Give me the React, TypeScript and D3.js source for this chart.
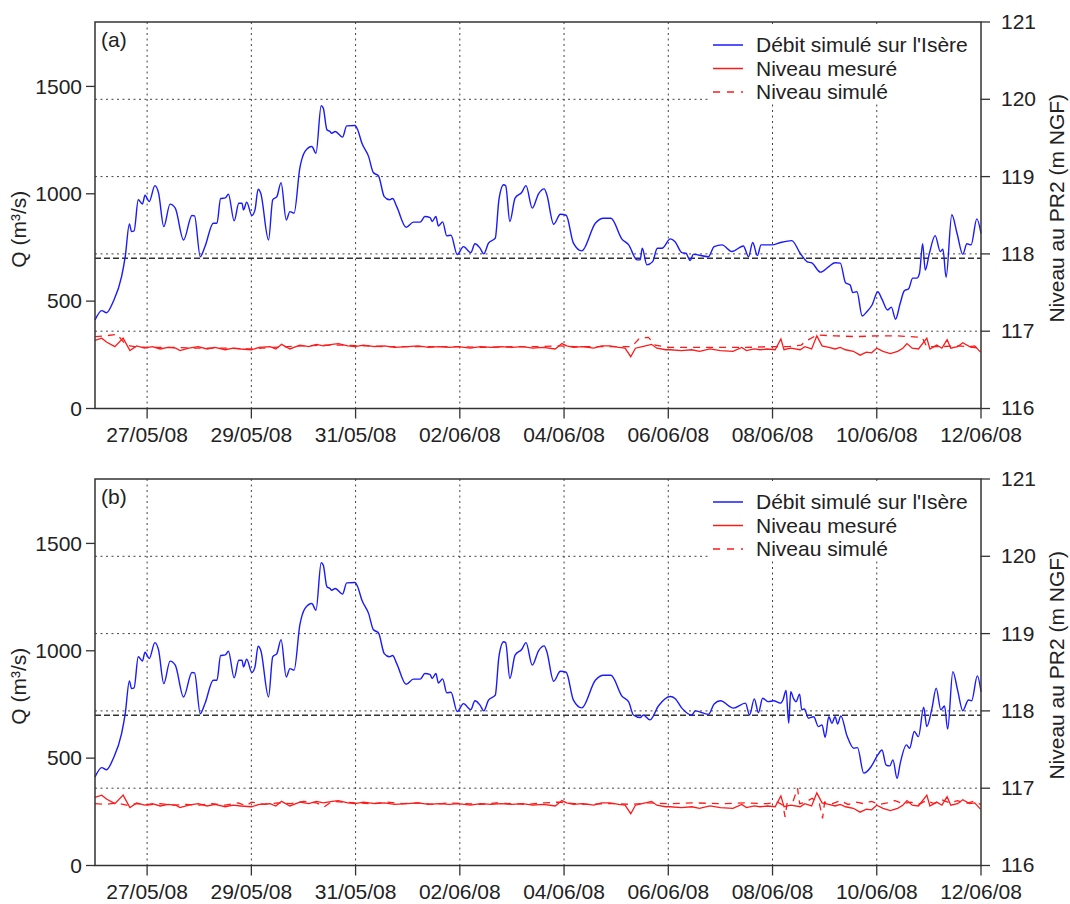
import React from "react";
import * as d3 from "d3";

// [days since 26/05/08 00:00, value]
type Pt = [number, number];

const tickLabels = [
  "27/05/08", "29/05/08", "31/05/08", "02/06/08", "04/06/08",
  "06/06/08", "08/06/08", "10/06/08", "12/06/08",
];
const qTicks = [0, 500, 1000, 1500];
const levelTicks = [116, 117, 118, 119, 120, 121];
const qThreshold = 700;

// Débit simulé sur l'Isère (m3/s), panel (a)
const debitA: Pt[] = [
  [0.0, 412], [0.13, 456], [0.22, 446], [0.35, 498], [0.51, 614], [0.58, 707],
  [0.66, 860], [0.7, 824], [0.75, 827], [0.83, 972], [0.91, 952], [0.96, 993],
  [1.04, 964], [1.15, 1038], [1.22, 1003], [1.32, 847], [1.44, 952], [1.54, 933],
  [1.7, 785], [1.86, 899], [1.91, 897], [2.02, 707], [2.11, 754], [2.27, 863],
  [2.34, 863], [2.41, 978], [2.5, 981], [2.56, 998], [2.67, 874], [2.76, 956],
  [2.82, 956], [2.85, 925], [2.91, 961], [3.01, 899], [3.07, 925], [3.13, 1021],
  [3.18, 1003], [3.33, 785], [3.41, 972], [3.49, 987], [3.57, 1052], [3.67, 878],
  [3.74, 917], [3.82, 910], [3.93, 1119], [4.03, 1197], [4.16, 1220], [4.24, 1189],
  [4.34, 1410], [4.38, 1399], [4.45, 1298], [4.51, 1290], [4.54, 1282], [4.61, 1290],
  [4.75, 1264], [4.83, 1316], [4.99, 1318], [5.04, 1298], [5.12, 1236], [5.25, 1173],
  [5.34, 1099], [5.44, 1083], [5.55, 987], [5.65, 972], [5.71, 978], [5.79, 940],
  [5.97, 844], [6.11, 868], [6.24, 868], [6.33, 894], [6.43, 889], [6.47, 871],
  [6.54, 894], [6.59, 850], [6.67, 869], [6.75, 804], [6.83, 807], [6.95, 717],
  [7.07, 754], [7.21, 726], [7.29, 767], [7.39, 746], [7.46, 720], [7.55, 770],
  [7.68, 793], [7.75, 972], [7.84, 1042], [7.88, 1037], [7.96, 871], [8.06, 980],
  [8.19, 1007], [8.27, 1038], [8.39, 933], [8.51, 1000], [8.62, 1023], [8.67, 995],
  [8.8, 858], [8.93, 905], [9.04, 900], [9.18, 770], [9.34, 734], [9.6, 863],
  [9.76, 886], [9.9, 886], [10.11, 789], [10.24, 762], [10.4, 692], [10.46, 692],
  [10.5, 746], [10.59, 669], [10.7, 684], [10.79, 746], [10.88, 746], [11.04, 790],
  [11.13, 777], [11.26, 726], [11.34, 723], [11.42, 689], [11.48, 718], [11.77, 707],
  [11.88, 754], [12.03, 762], [12.22, 731], [12.44, 757], [12.54, 707], [12.62, 773],
  [12.71, 712], [12.78, 762], [12.99, 762], [13.15, 773], [13.37, 782], [13.53, 723],
  [13.66, 684], [13.76, 677], [13.92, 635], [14.08, 661], [14.2, 679], [14.3, 677],
  [14.4, 586], [14.49, 575], [14.54, 540], [14.62, 544], [14.72, 431], [14.81, 451],
  [14.91, 482], [15.02, 544], [15.1, 509], [15.21, 459], [15.28, 472], [15.36, 416],
  [15.45, 490], [15.53, 549], [15.61, 557], [15.69, 607], [15.77, 607], [15.82, 630],
  [15.88, 767], [15.93, 645], [16.01, 723], [16.12, 805], [16.22, 731], [16.27, 742],
  [16.33, 611], [16.44, 902], [16.54, 816], [16.65, 718], [16.73, 767], [16.81, 762],
  [16.92, 883], [17.0, 816],
];

// panel (b) follows (a) up to 10.3 days, then differs
const debitBTail: Pt[] = [
  [10.33, 701], [10.46, 689], [10.52, 701], [10.65, 678], [10.81, 743], [11.04, 787],
  [11.13, 778], [11.26, 733], [11.45, 701], [11.52, 720], [11.77, 704], [11.88, 752],
  [12.0, 767], [12.25, 733], [12.48, 756], [12.56, 701], [12.65, 776], [12.73, 712],
  [12.81, 779], [12.92, 763], [13.02, 767], [13.15, 756], [13.2, 771], [13.26, 815],
  [13.31, 663], [13.35, 810], [13.4, 779], [13.45, 763], [13.52, 798], [13.56, 725],
  [13.61, 729], [13.69, 686], [13.79, 693], [13.88, 647], [13.95, 655], [14.01, 597],
  [14.08, 693], [14.14, 663], [14.2, 693], [14.25, 659], [14.31, 697], [14.43, 603],
  [14.56, 546], [14.63, 549], [14.75, 430], [14.81, 437], [14.89, 460], [15.02, 515],
  [15.1, 538], [15.18, 468], [15.25, 464], [15.31, 492], [15.39, 406], [15.45, 476],
  [15.57, 562], [15.63, 546], [15.72, 624], [15.8, 600], [15.9, 737], [15.96, 647],
  [16.06, 733], [16.14, 826], [16.23, 725], [16.3, 743], [16.36, 635], [16.46, 903],
  [16.55, 818], [16.65, 721], [16.76, 771], [16.82, 767], [16.93, 883], [17.0, 810],
];

// Niveau mesuré au PR2 (m NGF)
const niveauMesure: Pt[] = [
  [0.0, 116.88], [0.13, 116.91], [0.22, 116.86], [0.38, 116.8], [0.54, 116.91],
  [0.67, 116.75], [0.8, 116.81], [0.95, 116.78], [1.1, 116.8], [1.25, 116.77],
  [1.4, 116.79], [1.55, 116.78], [1.63, 116.75], [1.8, 116.78], [1.98, 116.8],
  [2.15, 116.77], [2.3, 116.79], [2.5, 116.76], [2.65, 116.78], [2.8, 116.77],
  [3.0, 116.76], [3.15, 116.79], [3.36, 116.8], [3.47, 116.77], [3.58, 116.83],
  [3.74, 116.77], [3.93, 116.82], [4.1, 116.8], [4.25, 116.83], [4.38, 116.81],
  [4.55, 116.83], [4.67, 116.84], [4.85, 116.81], [4.99, 116.8], [5.15, 116.82],
  [5.37, 116.8], [5.55, 116.81], [5.75, 116.79], [6.0, 116.8], [6.2, 116.81],
  [6.4, 116.79], [6.6, 116.8], [6.8, 116.79], [6.97, 116.8], [7.2, 116.78],
  [7.4, 116.8], [7.6, 116.79], [7.8, 116.8], [8.0, 116.79], [8.2, 116.8],
  [8.4, 116.78], [8.6, 116.79], [8.83, 116.77], [8.96, 116.84], [9.05, 116.81],
  [9.18, 116.79], [9.35, 116.8], [9.57, 116.78], [9.72, 116.81], [9.88, 116.81],
  [10.05, 116.79], [10.17, 116.78], [10.28, 116.67], [10.37, 116.78], [10.5, 116.8],
  [10.68, 116.83], [10.78, 116.78], [10.95, 116.76], [11.04, 116.76], [11.25, 116.75],
  [11.45, 116.76], [11.6, 116.74], [11.8, 116.77], [12.0, 116.75], [12.24, 116.74],
  [12.41, 116.79], [12.5, 116.75], [12.65, 116.77], [12.76, 116.76], [12.9, 116.77],
  [13.05, 116.76], [13.16, 116.9], [13.22, 116.76], [13.35, 116.78], [13.53, 116.76],
  [13.62, 116.8], [13.75, 116.77], [13.85, 116.94], [13.95, 116.81], [14.08, 116.79],
  [14.2, 116.77], [14.3, 116.79], [14.4, 116.76], [14.55, 116.74], [14.68, 116.69],
  [14.8, 116.73], [14.9, 116.72], [15.0, 116.78], [15.12, 116.74], [15.26, 116.71],
  [15.4, 116.74], [15.5, 116.78], [15.58, 116.84], [15.68, 116.78], [15.8, 116.77],
  [15.96, 116.91], [16.02, 116.77], [16.15, 116.82], [16.25, 116.78], [16.35, 116.89],
  [16.42, 116.78], [16.55, 116.8], [16.65, 116.85], [16.78, 116.8], [16.88, 116.81],
  [16.99, 116.73],
];

// Niveau simulé, panel (a)
const niveauSimA: Pt[] = [
  [0.0, 116.93], [0.2, 116.94], [0.42, 116.96], [0.6, 116.82], [0.75, 116.8],
  [1.0, 116.79], [1.5, 116.79], [2.0, 116.78], [2.5, 116.78], [3.0, 116.77],
  [3.4, 116.79], [3.7, 116.8], [4.0, 116.81], [4.4, 116.82], [4.8, 116.82],
  [5.2, 116.81], [5.6, 116.8], [6.0, 116.8], [6.5, 116.8], [7.0, 116.8],
  [7.5, 116.79], [8.0, 116.8], [8.5, 116.8], [8.9, 116.81], [9.2, 116.8],
  [9.6, 116.8], [10.0, 116.8], [10.3, 116.8], [10.45, 116.91], [10.62, 116.92],
  [10.75, 116.82], [11.0, 116.79], [11.5, 116.79], [12.0, 116.79], [12.5, 116.79],
  [12.9, 116.8], [13.3, 116.8], [13.55, 116.82], [13.66, 116.88], [13.85, 116.95],
  [14.2, 116.94], [14.6, 116.93], [15.0, 116.94], [15.4, 116.94], [15.87, 116.92],
  [15.96, 116.8], [16.2, 116.8], [16.6, 116.81], [17.0, 116.78],
];

// Niveau simulé, panel (b)
const niveauSimB: Pt[] = [
  [0.0, 116.8], [0.2, 116.79], [0.4, 116.81], [0.6, 116.78], [0.8, 116.8],
  [1.0, 116.78], [1.25, 116.8], [1.5, 116.78], [1.75, 116.79], [2.0, 116.78],
  [2.25, 116.8], [2.5, 116.78], [2.75, 116.81], [2.9, 116.77], [3.0, 116.82],
  [3.25, 116.79], [3.5, 116.81], [3.75, 116.8], [4.0, 116.83], [4.25, 116.81],
  [4.4, 116.76], [4.55, 116.83], [4.75, 116.82], [5.0, 116.81], [5.3, 116.8],
  [5.6, 116.82], [5.9, 116.8], [6.2, 116.81], [6.5, 116.79], [6.8, 116.81],
  [7.1, 116.8], [7.4, 116.79], [7.7, 116.81], [8.0, 116.8], [8.3, 116.79],
  [8.6, 116.81], [8.9, 116.82], [9.2, 116.8], [9.5, 116.79], [9.75, 116.8],
  [10.0, 116.8], [10.3, 116.79], [10.6, 116.81], [11.0, 116.8], [11.5, 116.81],
  [12.0, 116.8], [12.5, 116.81], [12.9, 116.8], [13.1, 116.82], [13.2, 116.78],
  [13.24, 116.63], [13.28, 116.81], [13.4, 116.84], [13.48, 117.0], [13.52, 116.8],
  [13.64, 116.82], [13.76, 116.87], [13.9, 116.8], [13.96, 116.61], [14.0, 116.82],
  [14.15, 116.8], [14.3, 116.84], [14.45, 116.79], [14.6, 116.82], [14.75, 116.8],
  [14.9, 116.83], [15.05, 116.79], [15.2, 116.81], [15.35, 116.84], [15.5, 116.8],
  [15.65, 116.82], [15.8, 116.79], [15.95, 116.84], [16.1, 116.8], [16.25, 116.85],
  [16.4, 116.81], [16.55, 116.84], [16.7, 116.8], [16.85, 116.83], [17.0, 116.79],
];

const debitB: Pt[] = [...debitA.filter((d) => d[0] < 10.3), ...debitBTail];

const legendLabels = ["Débit simulé sur l'Isère", "Niveau mesuré", "Niveau simulé"];

const W = 1070;
const H = 904;
const left = 95;
const right = 981;
const plotH = 386.5;
const font = "'Liberation Sans', Arial, sans-serif";
const fs = 21;
const ink = "#222";

const t0 = new Date(2008, 4, 26);
const toDate = (days: number) => new Date(t0.getTime() + days * 864e5);
const parseTick = d3.timeParse("%d/%m/%y");

const x = d3.scaleTime().domain([t0, new Date(2008, 5, 12)]).range([left, right]);

interface PanelProps {
  top: number;
  tag: string;
  debit: Pt[];
  simul: Pt[];
}

const Panel: React.FC<PanelProps> = ({ top, tag, debit, simul }) => {
  const bottom = top + plotH;
  const yQ = d3.scaleLinear().domain([0, 1800]).range([bottom, top]);
  const yL = d3.scaleLinear().domain([116, 121]).range([bottom, top]);

  const lineQ = d3.line<Pt>()
    .x((d) => x(toDate(d[0])))
    .y((d) => yQ(d[1]))
    .curve(d3.curveMonotoneX);
  const lineL = d3.line<Pt>().x((d) => x(toDate(d[0]))).y((d) => yL(d[1]));

  const ticks = tickLabels.map((s) => ({ s, px: x(parseTick(s) as Date) }));
  const mid = (top + bottom) / 2;

  return (
    <g fontFamily={font} fontSize={fs} fill={ink}>
      {/* grid */}
      {ticks.filter((t) => t.px < right - 1).map((t) => (
        <line key={t.s} x1={t.px} x2={t.px} y1={top} y2={bottom}
          stroke="#444" strokeWidth={1} strokeDasharray="2,3.5" />
      ))}
      {levelTicks.filter((v) => v > 116 && v < 121).map((v) => (
        <line key={v} x1={left} x2={right} y1={yL(v)} y2={yL(v)}
          stroke="#444" strokeWidth={1} strokeDasharray="2,3.5" />
      ))}
      <line x1={left} x2={right} y1={yQ(qThreshold)} y2={yQ(qThreshold)}
        stroke="#333" strokeWidth={1.4} strokeDasharray="6,3" />

      {/* series */}
      <path d={lineL(niveauMesure) ?? ""} fill="none" stroke="#ff1a1a" strokeWidth={1.3} />
      <path d={lineL(simul) ?? ""} fill="none" stroke="#ff1a1a" strokeWidth={1.3} strokeDasharray="7,6" />
      <path d={lineQ(debit) ?? ""} fill="none" stroke="#1a1aff" strokeWidth={1.4} strokeLinejoin="round" />

      {/* legend */}
      <rect x={708} y={top + 5} width={271} height={77} fill="white" />
      {legendLabels.map((lab, i) => {
        const cy = top + 23 + i * 23.5;
        return (
          <g key={lab}>
            <line x1={713} x2={743} y1={cy} y2={cy}
              stroke={i === 0 ? "#1a1aff" : "#ff1a1a"} strokeWidth={1.5}
              strokeDasharray={i === 2 ? "7,7" : undefined} />
            <text x={756} y={cy} dy="0.35em">{lab}</text>
          </g>
        );
      })}

      <text x={101} y={top + 25}>{tag}</text>

      {/* frame */}
      <rect x={left} y={top} width={right - left} height={plotH} fill="none" stroke="#333" strokeWidth={1.5} />

      {/* left axis */}
      {qTicks.map((v) => (
        <g key={v}>
          <line x1={left - 9} x2={left} y1={yQ(v)} y2={yQ(v)} stroke="#333" strokeWidth={1.3} />
          <text x={left - 13} y={yQ(v)} dy="0.35em" textAnchor="end">{v}</text>
        </g>
      ))}
      <text transform={`translate(19,${mid + 14}) rotate(-90)`} textAnchor="middle" dy="0.35em">
        Q (m³/s)
      </text>

      {/* right axis */}
      {levelTicks.map((v) => (
        <g key={v}>
          <line x1={right} x2={right + 9} y1={yL(v)} y2={yL(v)} stroke="#333" strokeWidth={1.3} />
          <text x={right + 20} y={yL(v)} dy="0.33em">{v}</text>
        </g>
      ))}
      <text transform={`translate(1057,${mid - 7}) rotate(-90)`} textAnchor="middle" dy="0.35em">
        Niveau au PR2 (m NGF)
      </text>

      {/* bottom axis */}
      {ticks.map((t) => (
        <g key={t.s}>
          <line x1={t.px} x2={t.px} y1={bottom} y2={bottom + 10} stroke="#333" strokeWidth={1.3} />
          <text x={t.px} y={bottom + 33.5} textAnchor="middle">{t.s}</text>
        </g>
      ))}
    </g>
  );
};

export default function App() {
  return (
    <div style={{ position: "absolute", left: 0, top: 0 }}>
      <svg width={W} height={H} style={{ display: "block", background: "white" }}>
        <Panel top={22} tag="(a)" debit={debitA} simul={niveauSimA} />
        <Panel top={479} tag="(b)" debit={debitB} simul={niveauSimB} />
      </svg>
    </div>
  );
}
